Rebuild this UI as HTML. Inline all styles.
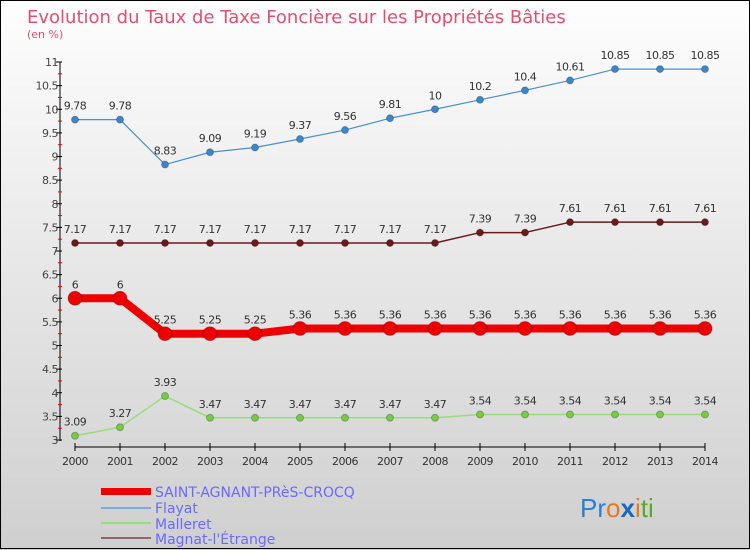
<!DOCTYPE html>
<html><head><meta charset="utf-8"><style>
body{margin:0;width:750px;height:550px;overflow:hidden}
svg{display:block;font-family:"DejaVu Sans","Liberation Sans",sans-serif}
</style></head><body>
<svg id="c" width="750" height="550">
<defs><linearGradient id="bg" x1="0" y1="0" x2="0" y2="1"><stop offset="0" stop-color="#fefefe"/><stop offset="1" stop-color="#cfcfcf"/></linearGradient></defs>
<rect x="0" y="0" width="750" height="550" fill="url(#bg)"/>
<rect x="0.5" y="0.5" width="749" height="548" fill="none" stroke="#000" stroke-width="1"/>
<text x="27" y="23" font-size="18" fill="#e0506e">Evolution du Taux de Taxe Foncière sur les Propriétés Bâties</text>
<text x="27" y="38" font-size="11" fill="#e0506e">(en %)</text>
<g id="axes"></g><g id="series"></g>
<g>
<rect x="101" y="488" width="50" height="7" fill="#ee0000"/>
<text x="155" y="497" font-size="14" fill="#6a6aff">SAINT-AGNANT-PRèS-CROCQ</text>
<rect x="101" y="507" width="50" height="2" fill="#7aaed8"/>
<text x="155" y="513" font-size="14" fill="#6a6aff">Flayat</text>
<rect x="101" y="522" width="50" height="2" fill="#99dd77"/>
<text x="155" y="529" font-size="14" fill="#6a6aff">Malleret</text>
<rect x="101" y="537" width="50" height="2" fill="#906868"/>
<text x="155" y="544" font-size="14" fill="#6a6aff">Magnat-l'Étrange</text>
</g>
<text x="580" y="517" font-size="26" font-family="Liberation Sans,sans-serif"><tspan fill="#2a7fd0">Pr</tspan><tspan fill="#e47b1a">o</tspan><tspan fill="#1a66c0" font-weight="bold">x</tspan><tspan fill="#e47b1a">i</tspan><tspan fill="#5aaa2a">ti</tspan></text>
</svg>
<script>
const years=[2000,2001,2002,2003,2004,2005,2006,2007,2008,2009,2010,2011,2012,2013,2014];
const saint=[6,6,5.25,5.25,5.25,5.36,5.36,5.36,5.36,5.36,5.36,5.36,5.36,5.36,5.36];
const flayat=[9.78,9.78,8.83,9.09,9.19,9.37,9.56,9.81,10,10.2,10.4,10.61,10.85,10.85,10.85];
const malleret=[3.09,3.27,3.93,3.47,3.47,3.47,3.47,3.47,3.47,3.54,3.54,3.54,3.54,3.54,3.54];
const magnat=[7.17,7.17,7.17,7.17,7.17,7.17,7.17,7.17,7.17,7.39,7.39,7.61,7.61,7.61,7.61];
const yTicks=[3,3.5,4,4.5,5,5.5,6,6.5,7,7.5,8,8.5,9,9.5,10,10.5,11];
const NS="http://www.w3.org/2000/svg";
const x=i=>75+(705-75)*i/(years.length-1);
const y=v=>440-(v-3)*47.25;
function mk(t,a,p){const e=document.createElementNS(NS,t);for(const k in a)e.setAttribute(k,a[k]);p.appendChild(e);return e;}
const ax=document.getElementById('axes');
let l=mk('line',{x1:60,y1:y(11),x2:60,y2:441,stroke:'#000'},ax);


l=mk('line',{x1:75,y1:447,x2:705,y2:447,stroke:'#000'},ax);


yTicks.forEach((v,i)=>{
 mk('line',{x1:56,y1:y(v),x2:62,y2:y(v),stroke:'#000'},ax);
 if(i<yTicks.length-1) mk('line',{x1:58,y1:y(v+0.25),x2:62,y2:y(v+0.25),stroke:'#e00'},ax);
 const t=mk('text',{x:58,y:y(v)+4,'font-size':11,'text-anchor':'end',fill:'#444','letter-spacing':'-0.5'},ax);
 t.textContent=String(v);
 
 
});
years.forEach((yr,i)=>{
 mk('line',{x1:x(i),y1:443,x2:x(i),y2:451,stroke:'#000'},ax);
 const t=mk('text',{x:x(i),y:465,'font-size':11,'text-anchor':'middle',fill:'#333','letter-spacing':'-0.5'},ax);
 t.textContent=yr;
 
 
});
const sg=document.getElementById('series');
function series(data,name,color,w,r,dot){
 const g=mk('g',{},sg);
 
 
 mk('polyline',{points:data.map((v,i)=>x(i)+','+y(v)).join(' '),fill:'none',stroke:color,'stroke-width':w,'stroke-linejoin':'round'},g);
 data.forEach((v,i)=>{
  const c=mk('circle',{cx:x(i),cy:y(v),r:r,fill:dot,stroke:'#00000040','stroke-width':1},g);
  
  
  const t=mk('text',{x:x(i),y:y(v)-10,'font-size':11,'text-anchor':'middle',fill:'#333','letter-spacing':'-0.5'},g);
  t.textContent=String(v);
  
  
 });
}
series(flayat,'series-flayat','#4a90cf',1.2,3.5,'#3a88cc');
series(magnat,'series-magnat','#6a1a1a',1.5,3.5,'#6a1a1a');
series(malleret,'series-malleret','#99dd77',1.5,3.5,'#77cc44');
series(saint,'series-saint-agnant','#ee0000',8,7,'#ee0000');
</script>
</body></html>
